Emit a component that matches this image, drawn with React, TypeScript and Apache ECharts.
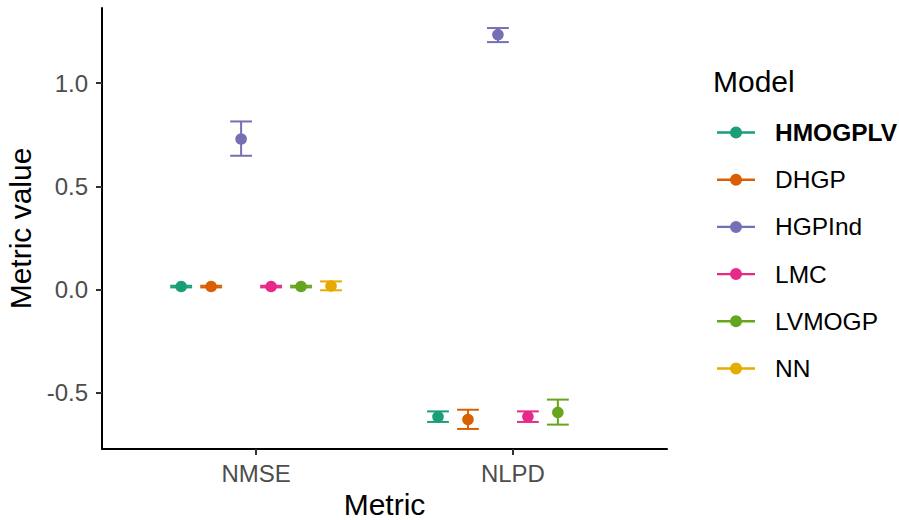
import React, { useEffect, useRef } from "react";
import * as echarts from "echarts";

const metrics = ["NMSE", "NLPD"];
const models = ["HMOGPLV", "DHGP", "HGPInd", "LMC", "LVMOGP", "NN"];
const colors = ["#1B9E77", "#D95F02", "#7570B3", "#E7298A", "#66A61E", "#E6AB02"];

// [NMSE, NLPD] per model: mean, lower, upper (null = not available)
const meanVals: (number | null)[][] = [
  [0.015, -0.615],
  [0.015, -0.628],
  [0.729, 1.234],
  [0.015, -0.614],
  [0.015, -0.594],
  [0.018, null],
];
const lowerVals: (number | null)[][] = [
  [0.011, -0.640],
  [0.011, -0.674],
  [0.648, 1.198],
  [0.011, -0.640],
  [0.011, -0.653],
  [-0.003, null],
];
const upperVals: (number | null)[][] = [
  [0.019, -0.589],
  [0.019, -0.581],
  [0.814, 1.266],
  [0.019, -0.589],
  [0.019, -0.532],
  [0.040, null],
];

const yTicks = [-0.5, 0, 0.5, 1.0];
const dodgeWidth = 0.7;
const capWidth = 0.085;

export default function App() {
  const ref = useRef<HTMLDivElement>(null);
  useEffect(() => {
    document.body.style.margin = "0";
    const chart = echarts.init(ref.current!, null, { renderer: "svg" });
    const step = dodgeWidth / models.length;
    const font = "'Liberation Sans', Arial, sans-serif";
    const series = models.map((m, i) => {
      const data: any[] = [];
      metrics.forEach((_, k) => {
        const v = meanVals[i][k];
        if (v === null) return;
        const x = k + 1 + (i - (models.length - 1) / 2) * step;
        data.push([x, v, lowerVals[i][k], upperVals[i][k]]);
      });
      return {
        type: "custom",
        name: m,
        itemStyle: { color: colors[i] },
        encode: { x: 0, y: 1 },
        data,
        renderItem: (params: any, api: any) => {
          const x = api.value(0);
          const c = api.coord([x, api.value(1)]);
          const lo = api.coord([x, api.value(2)]);
          const hi = api.coord([x, api.value(3)]);
          const hw = api.size([capWidth, 0])[0] / 2;
          const col = colors[i];
          const ls = { stroke: col, lineWidth: 2 };
          return {
            type: "group",
            children: [
              { type: "line", shape: { x1: c[0], y1: lo[1], x2: c[0], y2: hi[1] }, style: ls },
              { type: "line", shape: { x1: c[0] - hw, y1: lo[1], x2: c[0] + hw, y2: lo[1] }, style: ls },
              { type: "line", shape: { x1: c[0] - hw, y1: hi[1], x2: c[0] + hw, y2: hi[1] }, style: ls },
              { type: "circle", shape: { cx: c[0], cy: c[1], r: 5.8 }, style: { fill: col } },
            ],
          };
        },
      };
    });

    const iconPath = "path://M0,4.8 L38,4.8 L38,7.2 L0,7.2 Z M13,6 A6,6 0 1,1 25,6 A6,6 0 1,1 13,6 Z";

    chart.setOption({
      animation: false,
      textStyle: { fontFamily: font },
      title: {
        text: "Model",
        left: 713,
        top: 66,
        padding: 0,
        textStyle: { fontSize: 30, fontWeight: "normal", color: "#000", fontFamily: font },
      },
      legend: {
        orient: "vertical",
        left: 717,
        top: 120,
        padding: 0,
        itemWidth: 38,
        itemHeight: 12,
        itemGap: 22.2,
        icon: iconPath,
        data: models.map((m, i) => ({
          name: m,
          textStyle: i === 0 ? { fontWeight: "bold" } : {},
        })),
        textStyle: { fontSize: 24.5, color: "#000", fontFamily: font, lineHeight: 24, padding: [0, 0, 0, 15] },
        selectedMode: false,
      },
      grid: { left: 102, right: 232, top: 8, bottom: 71, containLabel: false, outerBoundsMode: "none" },
      xAxis: {
        type: "value",
        min: 0.4,
        max: 2.6,
        name: "Metric",
        nameLocation: "middle",
        nameGap: 38,
        nameTextStyle: { fontSize: 30, color: "#000", fontFamily: font },
        axisLine: { onZero: false, lineStyle: { color: "#000", width: 2 } },
        axisTick: { customValues: [1, 2], length: 6, lineStyle: { color: "#333", width: 2 } },
        axisLabel: {
          customValues: [1, 2],
          formatter: (v: number) => metrics[Math.round(v) - 1] ?? "",
          fontSize: 24,
          color: "#4D4D4D",
          margin: 12,
          fontFamily: font,
        },
        splitLine: { show: false },
      },
      yAxis: {
        type: "value",
        min: -0.771,
        max: 1.363,
        name: "Metric value",
        nameLocation: "middle",
        nameGap: 67,
        nameTextStyle: { fontSize: 30, color: "#000", fontFamily: font },
        axisLine: { show: true, onZero: false, lineStyle: { color: "#000", width: 2 } },
        axisTick: { show: true, customValues: yTicks, length: 6, lineStyle: { color: "#333", width: 2 } },
        axisLabel: {
          customValues: yTicks,
          formatter: (v: number) => v.toFixed(1),
          fontSize: 24,
          color: "#4D4D4D",
          margin: 14,
          fontFamily: font,
        },
        splitLine: { show: false },
      },
      series,
    });
    return () => chart.dispose();
  }, []);
  return (
    <div
      ref={ref}
      style={{ position: "absolute", left: 0, top: 0, width: 899, height: 520, background: "#fff" }}
    />
  );
}
